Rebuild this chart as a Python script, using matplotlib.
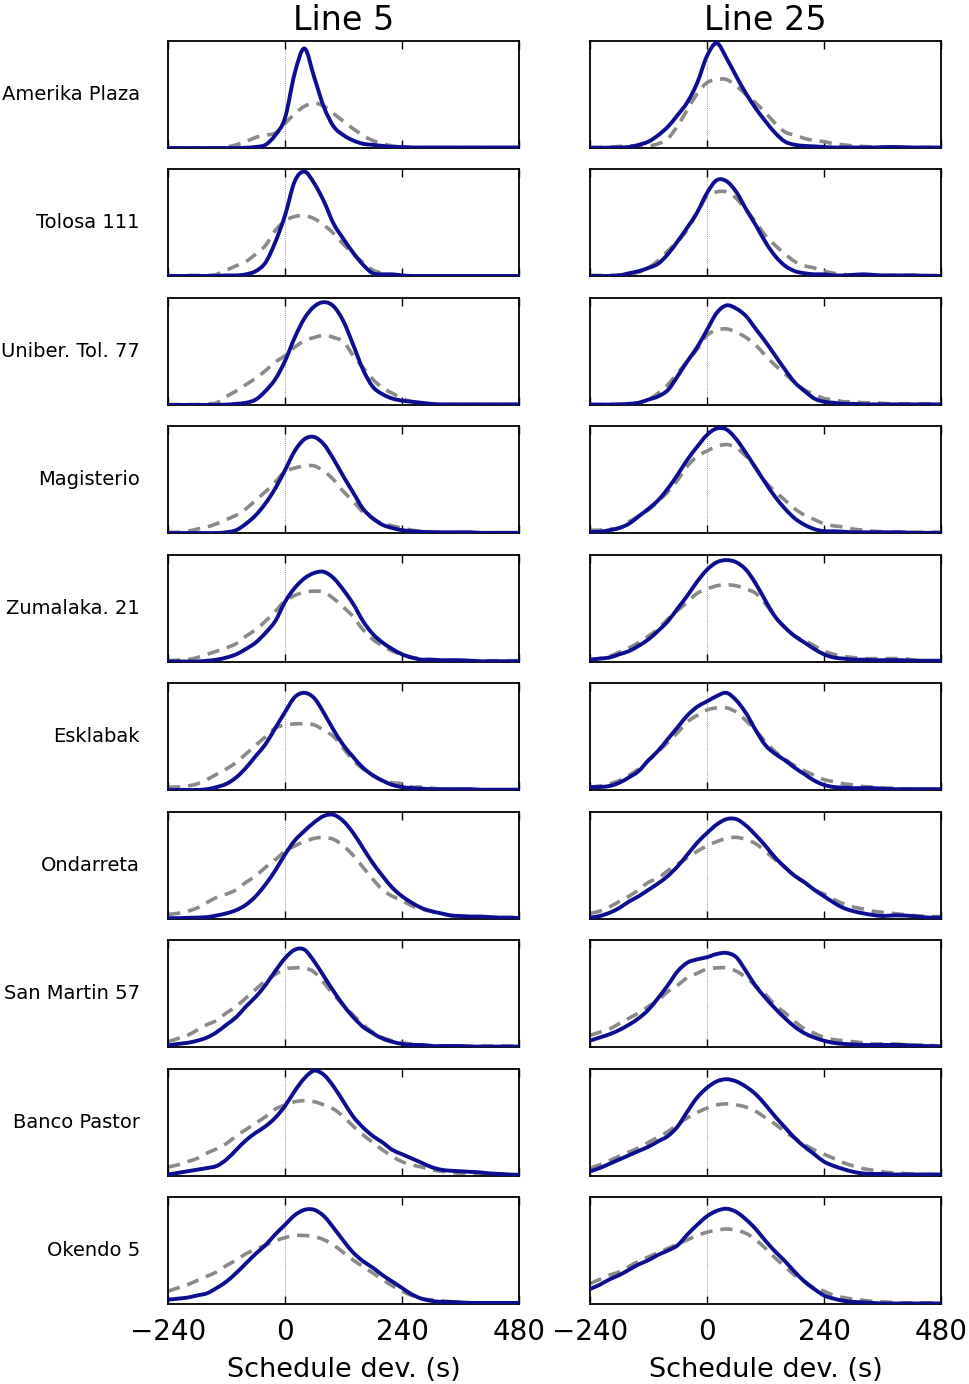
import matplotlib
matplotlib.use("Agg")
import matplotlib.pyplot as plt
from matplotlib.path import Path
from matplotlib.patches import PathPatch

# ---------------- data ----------------
DEV = [-240, -220, -200, -180, -160, -140, -120, -100, -80, -60, -40, -20,
       0, 20, 40, 60, 80, 100, 120, 140, 160, 180, 200, 220, 240,
       260, 280, 300, 320, 340, 360, 380, 400, 420, 440, 460, 480]

STATIONS = ["Amerika Plaza", "Tolosa 111", "Uniber. Tol. 77", "Magisterio",
            "Zumalaka. 21", "Esklabak", "Ondarreta", "San Martin 57",
            "Banco Pastor", "Okendo 5"]
LINES = ["Line 5", "Line 25"]
XTICKS = [-240, 0, 240, 480]

# Line 5 : observed (solid) and model (dashed) densities, relative units
AP5_obs = [0, 0, 0, 0, 0, 0, 0, 0, 0.003, 0.01, 0.03, 0.12, 0.28, 0.70, 0.93, 0.66, 0.38, 0.20, 0.12, 0.07, 0.04, 0.03, 0.02, 0.01, 0.01, 0.005, 0.005, 0.005, 0.005, 0.005, 0.005, 0.005, 0.005, 0.005, 0.005, 0.005, 0.005]
AP5_mod = [0, 0, 0, 0, 0, 0, 0.01, 0.03, 0.06, 0.10, 0.12, 0.14, 0.23, 0.32, 0.39, 0.42, 0.39, 0.32, 0.25, 0.18, 0.12, 0.07, 0.04, 0.02, 0.01, 0.003, 0.003, 0.003, 0.003, 0.003, 0.003, 0.003, 0.003, 0.003, 0.003, 0.003, 0.003]
TO5_obs = [0.005, 0.005, 0.005, 0.005, 0.005, 0.005, 0.01, 0.01, 0.02, 0.05, 0.13, 0.32, 0.57, 0.89, 0.98, 0.87, 0.70, 0.49, 0.35, 0.22, 0.11, 0.03, 0.02, 0.02, 0.01, 0.005, 0.005, 0.005, 0.005, 0.005, 0.005, 0.005, 0.005, 0.005, 0.005, 0.005, 0.005]
TO5_mod = [0.005, 0.005, 0.01, 0.01, 0.01, 0.02, 0.06, 0.10, 0.14, 0.21, 0.29, 0.43, 0.52, 0.56, 0.57, 0.54, 0.48, 0.40, 0.30, 0.21, 0.13, 0.06, 0.03, 0.01, 0.005, 0.003, 0.003, 0.003, 0.003, 0.003, 0.003, 0.003, 0.003, 0.003, 0.003, 0.003, 0.003]
UT5_obs = [0, 0, 0, 0, 0, 0, 0.003, 0.01, 0.02, 0.05, 0.13, 0.24, 0.41, 0.63, 0.81, 0.92, 0.96, 0.92, 0.78, 0.56, 0.33, 0.17, 0.10, 0.06, 0.04, 0.03, 0.02, 0.01, 0.005, 0.005, 0.005, 0.005, 0.005, 0.005, 0.005, 0.005, 0.005]
UT5_mod = [0.003, 0.003, 0.003, 0.003, 0.01, 0.02, 0.08, 0.13, 0.19, 0.25, 0.32, 0.40, 0.46, 0.54, 0.60, 0.63, 0.65, 0.63, 0.59, 0.46, 0.35, 0.24, 0.16, 0.11, 0.06, 0.03, 0.01, 0.003, 0.003, 0.003, 0.003, 0.003, 0.003, 0.003, 0.003, 0.003, 0.003]
MA5_obs = [0.003, 0.003, 0.003, 0.003, 0.003, 0.003, 0.01, 0.03, 0.09, 0.17, 0.28, 0.42, 0.59, 0.77, 0.88, 0.90, 0.83, 0.69, 0.53, 0.38, 0.23, 0.14, 0.08, 0.05, 0.03, 0.02, 0.015, 0.01, 0.01, 0.01, 0.01, 0.01, 0.005, 0.005, 0.005, 0.005, 0.005]
MA5_mod = [0.01, 0.01, 0.02, 0.04, 0.06, 0.09, 0.13, 0.17, 0.23, 0.31, 0.39, 0.48, 0.58, 0.61, 0.63, 0.63, 0.58, 0.50, 0.39, 0.30, 0.20, 0.14, 0.09, 0.07, 0.05, 0.03, 0.02, 0.015, 0.01, 0.005, 0.005, 0.005, 0.005, 0.005, 0.005, 0.005, 0.005]
ZU5_obs = [0.003, 0.003, 0.003, 0.003, 0.01, 0.02, 0.04, 0.07, 0.12, 0.18, 0.27, 0.38, 0.56, 0.69, 0.78, 0.83, 0.84, 0.78, 0.67, 0.54, 0.38, 0.26, 0.18, 0.12, 0.07, 0.04, 0.02, 0.02, 0.015, 0.015, 0.015, 0.01, 0.005, 0.005, 0.005, 0.005, 0.005]
ZU5_mod = [0.01, 0.015, 0.02, 0.04, 0.07, 0.10, 0.13, 0.17, 0.24, 0.30, 0.38, 0.47, 0.57, 0.62, 0.65, 0.66, 0.65, 0.59, 0.51, 0.42, 0.30, 0.21, 0.15, 0.10, 0.07, 0.04, 0.03, 0.02, 0.015, 0.01, 0.01, 0.01, 0.01, 0.01, 0.01, 0.01, 0.01]
ES5_obs = [0.003, 0.003, 0.003, 0.003, 0.01, 0.03, 0.06, 0.12, 0.21, 0.32, 0.43, 0.58, 0.73, 0.87, 0.91, 0.86, 0.72, 0.56, 0.42, 0.31, 0.21, 0.14, 0.09, 0.05, 0.03, 0.02, 0.015, 0.01, 0.01, 0.01, 0.01, 0.01, 0.005, 0.005, 0.005, 0.005, 0.005]
ES5_mod = [0.03, 0.03, 0.04, 0.06, 0.10, 0.15, 0.20, 0.26, 0.34, 0.42, 0.50, 0.58, 0.61, 0.62, 0.62, 0.61, 0.56, 0.50, 0.39, 0.28, 0.20, 0.14, 0.09, 0.07, 0.06, 0.03, 0.03, 0.02, 0.01, 0.005, 0.005, 0.005, 0.005, 0.005, 0.005, 0.005, 0.005]
ON5_obs = [0.005, 0.005, 0.008, 0.01, 0.015, 0.03, 0.05, 0.08, 0.13, 0.21, 0.32, 0.45, 0.60, 0.73, 0.82, 0.90, 0.96, 0.97, 0.91, 0.80, 0.66, 0.52, 0.40, 0.29, 0.21, 0.15, 0.10, 0.07, 0.05, 0.03, 0.025, 0.02, 0.02, 0.015, 0.01, 0.01, 0.005]
ON5_mod = [0.04, 0.05, 0.07, 0.10, 0.15, 0.20, 0.23, 0.27, 0.34, 0.40, 0.48, 0.55, 0.63, 0.68, 0.72, 0.75, 0.76, 0.74, 0.68, 0.59, 0.48, 0.37, 0.27, 0.21, 0.17, 0.12, 0.09, 0.07, 0.05, 0.03, 0.02, 0.015, 0.01, 0.01, 0.01, 0.01, 0.01]
SM5_obs = [0.015, 0.03, 0.04, 0.06, 0.09, 0.14, 0.21, 0.28, 0.38, 0.47, 0.58, 0.71, 0.83, 0.91, 0.91, 0.80, 0.66, 0.52, 0.39, 0.28, 0.19, 0.13, 0.08, 0.05, 0.03, 0.02, 0.02, 0.01, 0.01, 0.01, 0.01, 0.005, 0.005, 0.005, 0.005, 0.005, 0.005]
SM5_mod = [0.05, 0.08, 0.11, 0.16, 0.21, 0.25, 0.32, 0.38, 0.46, 0.54, 0.62, 0.68, 0.73, 0.74, 0.74, 0.70, 0.60, 0.49, 0.39, 0.30, 0.21, 0.14, 0.09, 0.06, 0.04, 0.03, 0.02, 0.015, 0.01, 0.01, 0.01, 0.01, 0.01, 0.01, 0.01, 0.01, 0.01]
BP5_obs = [0.01, 0.025, 0.04, 0.055, 0.07, 0.09, 0.15, 0.24, 0.33, 0.40, 0.46, 0.54, 0.65, 0.79, 0.91, 0.98, 0.94, 0.83, 0.69, 0.55, 0.45, 0.37, 0.31, 0.24, 0.20, 0.16, 0.12, 0.08, 0.055, 0.045, 0.04, 0.035, 0.03, 0.02, 0.015, 0.01, 0.005]
BP5_mod = [0.08, 0.10, 0.13, 0.16, 0.21, 0.25, 0.30, 0.37, 0.43, 0.49, 0.55, 0.62, 0.66, 0.69, 0.70, 0.69, 0.66, 0.62, 0.55, 0.46, 0.38, 0.31, 0.24, 0.18, 0.13, 0.10, 0.08, 0.055, 0.04, 0.03, 0.02, 0.015, 0.01, 0.01, 0.01, 0.01, 0.01]
OK5_obs = [0.04, 0.05, 0.06, 0.08, 0.10, 0.15, 0.21, 0.29, 0.38, 0.47, 0.55, 0.65, 0.74, 0.83, 0.88, 0.88, 0.82, 0.71, 0.59, 0.48, 0.40, 0.34, 0.27, 0.21, 0.15, 0.09, 0.05, 0.03, 0.02, 0.02, 0.015, 0.01, 0.01, 0.01, 0.01, 0.01, 0.01]
OK5_mod = [0.12, 0.15, 0.18, 0.22, 0.26, 0.30, 0.36, 0.41, 0.47, 0.51, 0.55, 0.59, 0.62, 0.64, 0.64, 0.63, 0.60, 0.55, 0.48, 0.41, 0.35, 0.29, 0.23, 0.17, 0.12, 0.08, 0.05, 0.04, 0.03, 0.02, 0.01, 0.01, 0.01, 0.01, 0.01, 0.01, 0.01]

# Line 25
AP25_obs = [0.003, 0.003, 0.003, 0.005, 0.01, 0.03, 0.06, 0.12, 0.20, 0.31, 0.43, 0.61, 0.86, 0.98, 0.84, 0.67, 0.51, 0.37, 0.25, 0.14, 0.06, 0.03, 0.02, 0.015, 0.01, 0.005, 0.005, 0.005, 0.005, 0.005, 0.008, 0.01, 0.008, 0.005, 0.005, 0.005, 0.005]
AP25_mod = [0.003, 0.005, 0.01, 0.015, 0.02, 0.02, 0.02, 0.04, 0.09, 0.21, 0.36, 0.51, 0.61, 0.64, 0.64, 0.58, 0.50, 0.42, 0.33, 0.23, 0.15, 0.12, 0.09, 0.07, 0.06, 0.04, 0.03, 0.02, 0.015, 0.01, 0.005, 0.005, 0.005, 0.005, 0.005, 0.005, 0.005]
TO25_obs = [0.005, 0.005, 0.005, 0.01, 0.03, 0.05, 0.08, 0.12, 0.21, 0.33, 0.46, 0.60, 0.78, 0.90, 0.89, 0.79, 0.63, 0.48, 0.32, 0.19, 0.10, 0.05, 0.03, 0.02, 0.02, 0.01, 0.01, 0.015, 0.02, 0.015, 0.01, 0.01, 0.01, 0.01, 0.008, 0.005, 0.005]
TO25_mod = [0.01, 0.01, 0.01, 0.015, 0.02, 0.04, 0.08, 0.15, 0.24, 0.33, 0.44, 0.60, 0.75, 0.79, 0.79, 0.73, 0.62, 0.51, 0.38, 0.29, 0.21, 0.14, 0.10, 0.08, 0.05, 0.03, 0.02, 0.01, 0.01, 0.01, 0.01, 0.01, 0.01, 0.01, 0.01, 0.01, 0.01]
UT25_obs = [0.003, 0.003, 0.003, 0.005, 0.01, 0.02, 0.05, 0.08, 0.14, 0.27, 0.41, 0.54, 0.70, 0.86, 0.93, 0.90, 0.83, 0.71, 0.59, 0.46, 0.33, 0.21, 0.13, 0.06, 0.03, 0.02, 0.01, 0.01, 0.005, 0.005, 0.005, 0.005, 0.005, 0.005, 0.005, 0.005, 0.005]
UT25_mod = [0.003, 0.003, 0.005, 0.005, 0.01, 0.02, 0.05, 0.11, 0.19, 0.30, 0.41, 0.52, 0.65, 0.70, 0.71, 0.68, 0.63, 0.56, 0.46, 0.37, 0.29, 0.21, 0.14, 0.10, 0.06, 0.05, 0.03, 0.03, 0.02, 0.02, 0.015, 0.01, 0.01, 0.01, 0.01, 0.01, 0.01]
MA25_obs = [0.015, 0.015, 0.03, 0.05, 0.09, 0.16, 0.23, 0.31, 0.42, 0.55, 0.69, 0.81, 0.92, 0.98, 0.97, 0.88, 0.75, 0.61, 0.47, 0.34, 0.23, 0.14, 0.08, 0.04, 0.02, 0.02, 0.015, 0.01, 0.01, 0.01, 0.01, 0.01, 0.01, 0.005, 0.005, 0.005, 0.005]
MA25_mod = [0.03, 0.03, 0.04, 0.05, 0.11, 0.16, 0.22, 0.30, 0.39, 0.50, 0.63, 0.72, 0.77, 0.81, 0.83, 0.80, 0.72, 0.61, 0.48, 0.39, 0.31, 0.23, 0.17, 0.13, 0.09, 0.07, 0.06, 0.04, 0.03, 0.02, 0.015, 0.01, 0.01, 0.01, 0.01, 0.01, 0.01]
ZU25_obs = [0.02, 0.03, 0.04, 0.07, 0.10, 0.15, 0.21, 0.29, 0.38, 0.50, 0.62, 0.75, 0.86, 0.93, 0.95, 0.93, 0.86, 0.73, 0.57, 0.42, 0.32, 0.24, 0.18, 0.12, 0.07, 0.04, 0.03, 0.02, 0.02, 0.015, 0.015, 0.015, 0.015, 0.01, 0.01, 0.01, 0.01]
ZU25_mod = [0.02, 0.03, 0.05, 0.09, 0.13, 0.18, 0.24, 0.31, 0.40, 0.48, 0.56, 0.64, 0.68, 0.71, 0.72, 0.71, 0.68, 0.64, 0.54, 0.42, 0.32, 0.24, 0.20, 0.15, 0.10, 0.07, 0.05, 0.04, 0.03, 0.03, 0.03, 0.03, 0.03, 0.02, 0.01, 0.01, 0.01]
ES25_obs = [0.03, 0.03, 0.04, 0.07, 0.12, 0.18, 0.28, 0.37, 0.48, 0.59, 0.70, 0.78, 0.83, 0.88, 0.91, 0.84, 0.72, 0.56, 0.42, 0.34, 0.28, 0.21, 0.15, 0.09, 0.05, 0.03, 0.025, 0.02, 0.02, 0.02, 0.015, 0.01, 0.01, 0.01, 0.01, 0.01, 0.01]
ES25_mod = [0.03, 0.04, 0.06, 0.09, 0.14, 0.20, 0.28, 0.36, 0.45, 0.54, 0.64, 0.70, 0.75, 0.77, 0.77, 0.73, 0.65, 0.56, 0.45, 0.36, 0.29, 0.23, 0.18, 0.14, 0.10, 0.08, 0.06, 0.05, 0.035, 0.03, 0.02, 0.02, 0.01, 0.01, 0.01, 0.01, 0.01]
ON25_obs = [0.01, 0.025, 0.055, 0.10, 0.16, 0.21, 0.27, 0.33, 0.40, 0.49, 0.60, 0.71, 0.80, 0.88, 0.93, 0.93, 0.87, 0.78, 0.68, 0.57, 0.48, 0.40, 0.34, 0.27, 0.21, 0.15, 0.10, 0.07, 0.05, 0.035, 0.025, 0.03, 0.03, 0.025, 0.015, 0.01, 0.01]
ON25_mod = [0.05, 0.07, 0.11, 0.16, 0.21, 0.27, 0.34, 0.38, 0.45, 0.51, 0.57, 0.63, 0.68, 0.72, 0.75, 0.76, 0.74, 0.70, 0.63, 0.55, 0.48, 0.40, 0.34, 0.27, 0.23, 0.18, 0.14, 0.11, 0.09, 0.07, 0.06, 0.05, 0.04, 0.03, 0.025, 0.02, 0.02]
SM25_obs = [0.06, 0.09, 0.12, 0.16, 0.21, 0.27, 0.35, 0.46, 0.58, 0.71, 0.79, 0.82, 0.84, 0.87, 0.88, 0.84, 0.71, 0.57, 0.46, 0.36, 0.27, 0.19, 0.13, 0.09, 0.06, 0.04, 0.03, 0.025, 0.02, 0.02, 0.02, 0.02, 0.02, 0.015, 0.01, 0.01, 0.005]
SM25_mod = [0.11, 0.14, 0.17, 0.22, 0.27, 0.32, 0.38, 0.44, 0.52, 0.58, 0.65, 0.69, 0.73, 0.74, 0.74, 0.71, 0.65, 0.57, 0.49, 0.39, 0.32, 0.24, 0.17, 0.13, 0.09, 0.07, 0.06, 0.05, 0.04, 0.03, 0.03, 0.03, 0.025, 0.02, 0.02, 0.015, 0.01]
BP25_obs = [0.04, 0.07, 0.11, 0.15, 0.19, 0.23, 0.27, 0.32, 0.37, 0.46, 0.60, 0.73, 0.82, 0.88, 0.90, 0.88, 0.83, 0.76, 0.66, 0.55, 0.45, 0.35, 0.27, 0.20, 0.13, 0.09, 0.06, 0.035, 0.02, 0.015, 0.015, 0.01, 0.01, 0.01, 0.01, 0.01, 0.01]
BP25_mod = [0.07, 0.10, 0.14, 0.18, 0.22, 0.26, 0.31, 0.36, 0.41, 0.48, 0.54, 0.59, 0.63, 0.66, 0.67, 0.66, 0.64, 0.60, 0.54, 0.48, 0.41, 0.35, 0.29, 0.24, 0.20, 0.16, 0.12, 0.09, 0.065, 0.05, 0.035, 0.025, 0.02, 0.015, 0.01, 0.01, 0.01]
OK25_obs = [0.14, 0.18, 0.23, 0.27, 0.32, 0.37, 0.41, 0.46, 0.50, 0.55, 0.65, 0.74, 0.82, 0.87, 0.89, 0.86, 0.79, 0.70, 0.59, 0.49, 0.40, 0.30, 0.21, 0.14, 0.08, 0.05, 0.03, 0.02, 0.015, 0.01, 0.005, 0.005, 0.005, 0.005, 0.005, 0.005, 0.005]
OK25_mod = [0.19, 0.23, 0.27, 0.30, 0.35, 0.40, 0.44, 0.48, 0.52, 0.56, 0.60, 0.64, 0.67, 0.69, 0.70, 0.69, 0.66, 0.60, 0.52, 0.43, 0.35, 0.27, 0.21, 0.15, 0.12, 0.08, 0.06, 0.045, 0.035, 0.025, 0.02, 0.015, 0.01, 0.01, 0.01, 0.01, 0.01]

OBS_L5 = [AP5_obs, TO5_obs, UT5_obs, MA5_obs, ZU5_obs, ES5_obs, ON5_obs, SM5_obs, BP5_obs, OK5_obs]
MOD_L5 = [AP5_mod, TO5_mod, UT5_mod, MA5_mod, ZU5_mod, ES5_mod, ON5_mod, SM5_mod, BP5_mod, OK5_mod]
OBS_L25 = [AP25_obs, TO25_obs, UT25_obs, MA25_obs, ZU25_obs, ES25_obs, ON25_obs, SM25_obs, BP25_obs, OK25_obs]
MOD_L25 = [AP25_mod, TO25_mod, UT25_mod, MA25_mod, ZU25_mod, ES25_mod, ON25_mod, SM25_mod, BP25_mod, OK25_mod]

for arr in OBS_L5 + MOD_L5 + OBS_L25 + MOD_L25:
    assert len(arr) == len(DEV), len(arr)


def smooth_path(xs, ys):
    """Bezier path passing through every data point (Catmull-Rom tangents)."""
    n = len(xs)
    verts = [(xs[0], ys[0])]
    codes = [Path.MOVETO]
    for i in range(n - 1):
        x0, y0 = (xs[i - 1], ys[i - 1]) if i > 0 else (xs[i], ys[i])
        x1, y1 = xs[i], ys[i]
        x2, y2 = xs[i + 1], ys[i + 1]
        x3, y3 = (xs[i + 2], ys[i + 2]) if i + 2 < n else (x2, y2)
        c1 = (x1 + (x2 - x0) / 6.0, y1 + (y2 - y0) / 6.0)
        c2 = (x2 - (x3 - x1) / 6.0, y2 - (y3 - y1) / 6.0)
        verts += [c1, c2, (x2, y2)]
        codes += [Path.CURVE4] * 3
    return Path(verts, codes)


# ---------------- figure ----------------
plt.rcParams['font.family'] = ['DejaVu Sans']
fig = plt.figure(figsize=(9.69, 13.84), dpi=100)
gs = fig.add_gridspec(10, 2, left=168/969, right=941/969,
                      top=1 - 41/1384, bottom=1 - 1304/1384,
                      wspace=71/351, hspace=21.4/107)

NAVY = '#0e0e90'
GRAY = '#8a8a8a'

for c, (obs_set, mod_set) in enumerate([(OBS_L5, MOD_L5), (OBS_L25, MOD_L25)]):
    for r in range(10):
        ax = fig.add_subplot(gs[r, c])
        ax.axvline(0, color='#777777', lw=0.6, ls=(0, (1, 1.5)), zorder=1)
        ax.add_patch(PathPatch(smooth_path(DEV, mod_set[r]), fill=False,
                               edgecolor=GRAY, lw=2.6,
                               linestyle=(0, (3.4, 2.2)), capstyle='butt',
                               zorder=2))
        ax.add_patch(PathPatch(smooth_path(DEV, obs_set[r]), fill=False,
                               edgecolor=NAVY, lw=2.8, joinstyle='round',
                               zorder=3))
        ax.set_xlim(-240, 480)
        ax.set_ylim(0, 1.0)
        ax.set_yticks([])
        ax.set_xticks(XTICKS)
        ax.tick_params(axis='x', direction='in', top=True, bottom=True,
                       length=6, width=1, labelsize=20, pad=10)
        for sp in ax.spines.values():
            sp.set_linewidth(1.3)
        if r < 9:
            ax.set_xticklabels([])
        else:
            ax.set_xlabel("Schedule dev. (s)", fontsize=19.5, labelpad=8)
        if r == 0:
            ax.set_title(LINES[c], fontsize=24, pad=8)
        if c == 0:
            ax.text(-0.08, 0.5, STATIONS[r], transform=ax.transAxes,
                    ha='right', va='center', fontsize=14)

fig.savefig("out.png", dpi=100, facecolor='white')
